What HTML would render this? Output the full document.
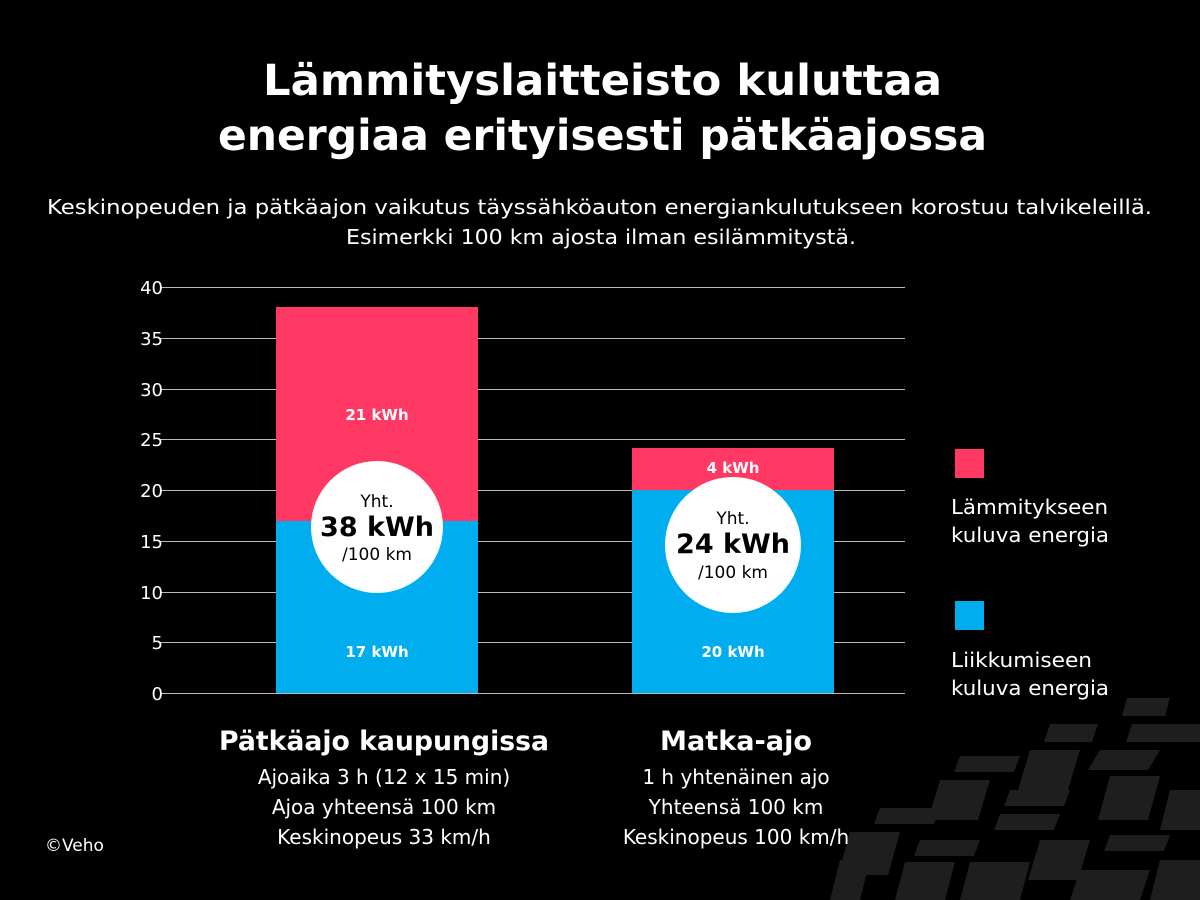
<!DOCTYPE html><html><head><meta charset="utf-8"><style>
body{margin:0;background:#000;width:1200px;height:900px;overflow:hidden;font-family:"DejaVu Sans","Liberation Sans",sans-serif;color:#fff}
svg{position:absolute;left:0;top:0}
</style></head><body>
<svg width="1200" height="900" xmlns="http://www.w3.org/2000/svg" font-family="DejaVu Sans, Liberation Sans, sans-serif">
<g fill="#1e1e1e">
<polygon points="1127,698 1170,698 1165,716 1122,716"/>
<polygon points="1050,724 1098,724 1092,742 1044,742"/>
<polygon points="1132,724 1200,724 1200,742 1126,742"/>
<polygon points="1030,750 1080,750 1068,790 1018,790"/>
<polygon points="1100,750 1160,750 1148,770 1088,770"/>
<polygon points="960,756 1020,756 1014,772 954,772"/>
<polygon points="940,780 990,780 978,820 928,820"/>
<polygon points="1010,790 1070,790 1064,806 1004,806"/>
<polygon points="1110,776 1160,776 1148,820 1098,820"/>
<polygon points="880,808 940,808 934,824 874,824"/>
<polygon points="1000,814 1060,814 1054,830 994,830"/>
<polygon points="1170,790 1200,790 1200,830 1160,830"/>
<polygon points="850,832 900,832 888,875 838,875"/>
<polygon points="920,840 980,840 974,856 914,856"/>
<polygon points="1040,840 1090,840 1078,880 1028,880"/>
<polygon points="1110,835 1170,835 1164,851 1104,851"/>
<polygon points="840,860 870,860 860,900 830,900"/>
<polygon points="905,862 955,862 945,900 895,900"/>
<polygon points="970,862 1030,862 1020,900 960,900"/>
<polygon points="1080,870 1150,870 1140,900 1070,900"/>
<polygon points="1160,860 1200,860 1200,900 1150,900"/>
</g>
<text x="263" y="95" textLength="679" lengthAdjust="spacingAndGlyphs" font-size="43" font-weight="bold" fill="#fff">Lämmityslaitteisto kuluttaa</text>
<text x="218" y="150" textLength="769" lengthAdjust="spacingAndGlyphs" font-size="43" font-weight="bold" fill="#fff">energiaa erityisesti pätkäajossa</text>
<text x="47" y="214" textLength="1105" lengthAdjust="spacingAndGlyphs" font-size="20" fill="#fff">Keskinopeuden ja pätkäajon vaikutus täyssähköauton energiankulutukseen korostuu talvikeleillä.</text>
<text x="346" y="244" textLength="510" lengthAdjust="spacingAndGlyphs" font-size="20" fill="#fff">Esimerkki 100 km ajosta ilman esilämmitystä.</text>
<g stroke="#bbb" stroke-width="1">
<line x1="160" x2="905" y1="287.5" y2="287.5"/><line x1="160" x2="905" y1="338.5" y2="338.5"/>
<line x1="160" x2="905" y1="389.5" y2="389.5"/><line x1="160" x2="905" y1="439.5" y2="439.5"/>
<line x1="160" x2="905" y1="490.5" y2="490.5"/><line x1="160" x2="905" y1="541.5" y2="541.5"/>
<line x1="160" x2="905" y1="592.5" y2="592.5"/><line x1="160" x2="905" y1="642.5" y2="642.5"/>
<line x1="160" x2="905" y1="693.5" y2="693.5"/>
</g>
<g font-size="18" fill="#fff" text-anchor="end">
<text x="163" y="294">40</text><text x="163" y="345">35</text><text x="163" y="396">30</text>
<text x="163" y="446">25</text><text x="163" y="497">20</text><text x="163" y="548">15</text>
<text x="163" y="599">10</text><text x="163" y="649">5</text><text x="163" y="700">0</text>
</g>
<rect x="276" y="307" width="202" height="214" fill="#ff3864"/>
<rect x="276" y="521" width="202" height="172" fill="#00aeef"/>
<rect x="632" y="448" width="202" height="42" fill="#ff3864"/>
<rect x="632" y="490" width="202" height="203" fill="#00aeef"/>
<g font-size="15" font-weight="bold" fill="#fff" text-anchor="middle">
<text x="377" y="420">21 kWh</text><text x="377" y="657">17 kWh</text>
<text x="733" y="473">4 kWh</text><text x="733" y="657">20 kWh</text>
</g>
<circle cx="377" cy="527" r="66" fill="#fff"/>
<circle cx="733" cy="545" r="68" fill="#fff"/>
<g fill="#000" text-anchor="middle">
<text x="377" y="507" font-size="17">Yht.</text>
<text x="377" y="536" font-size="27" font-weight="bold">38 kWh</text>
<text x="377" y="560" font-size="17">/100 km</text>
<text x="733" y="524" font-size="17">Yht.</text>
<text x="733" y="553" font-size="27" font-weight="bold">24 kWh</text>
<text x="733" y="578" font-size="17">/100 km</text>
</g>
<rect x="955" y="449" width="29" height="29" fill="#ff3864"/>
<rect x="955" y="601" width="29" height="29" fill="#00aeef"/>
<g font-size="20" fill="#fff">
<text x="951" y="514" textLength="157" lengthAdjust="spacingAndGlyphs">Lämmitykseen</text><text x="951" y="542" textLength="158" lengthAdjust="spacingAndGlyphs">kuluva energia</text>
<text x="951" y="667" textLength="141" lengthAdjust="spacingAndGlyphs">Liikkumiseen</text><text x="951" y="695" textLength="158" lengthAdjust="spacingAndGlyphs">kuluva energia</text>
</g>
<g fill="#fff" text-anchor="middle">
<text x="384" y="750" font-size="27" font-weight="bold" textLength="330" lengthAdjust="spacingAndGlyphs">Pätkäajo kaupungissa</text>
<text x="384" y="784" font-size="20">Ajoaika 3 h (12 x 15 min)</text>
<text x="384" y="814" font-size="20">Ajoa yhteensä 100 km</text>
<text x="384" y="844" font-size="20">Keskinopeus 33 km/h</text>
<text x="736" y="750" font-size="27" font-weight="bold" textLength="152" lengthAdjust="spacingAndGlyphs">Matka-ajo</text>
<text x="736" y="784" font-size="20">1 h yhtenäinen ajo</text>
<text x="736" y="814" font-size="20">Yhteensä 100 km</text>
<text x="736" y="844" font-size="20">Keskinopeus 100 km/h</text>
</g>
<text x="45" y="851" font-size="17" fill="#fff">©Veho</text>
</svg>
</body></html>
